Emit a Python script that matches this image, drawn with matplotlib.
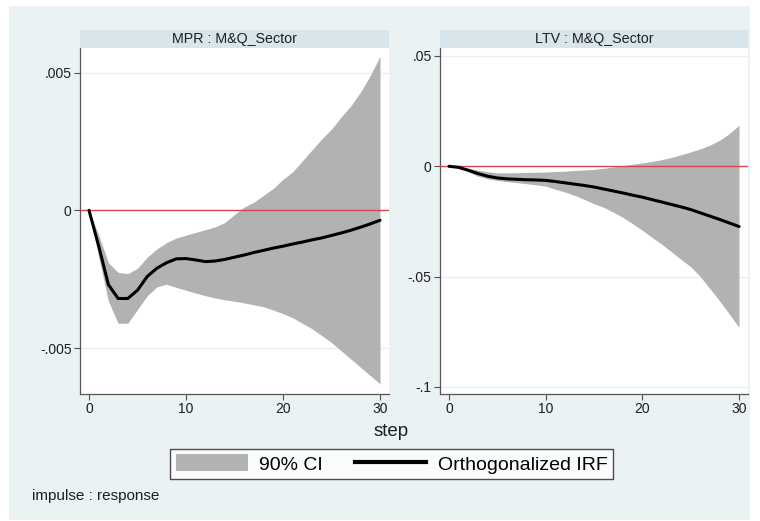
import matplotlib
matplotlib.use("Agg")
import matplotlib.pyplot as plt
from matplotlib.patches import Rectangle, Patch
from matplotlib.lines import Line2D

plt.rcParams['font.family'] = ['Liberation Sans', 'DejaVu Sans']

steps = list(range(31))

# Impulse MPR -> response M&Q_Sector
mpr_irf = [0, -0.0013, -0.0027, -0.0032, -0.0032, -0.0029, -0.0024, -0.0021, -0.0019,
           -0.00176, -0.00175, -0.0018, -0.00186, -0.00184, -0.00178, -0.0017, -0.00162,
           -0.00153, -0.00145, -0.00137, -0.0013, -0.00122, -0.00115, -0.00107, -0.001,
           -0.00091, -0.00082, -0.00072, -0.00061, -0.00049, -0.00036]
mpr_upper = [0, -0.0009, -0.0019, -0.00225, -0.0023, -0.0021, -0.0017, -0.0014, -0.00117,
             -0.001, -0.0009, -0.0008, -0.0007, -0.0006, -0.00044, -0.00015, 0.00012,
             0.0003, 0.00055, 0.0008, 0.00113, 0.0014, 0.0018, 0.0022, 0.0026, 0.00295,
             0.0034, 0.0038, 0.0043, 0.0049, 0.0056]
mpr_lower = [0, -0.0017, -0.0033, -0.0041, -0.0041, -0.0036, -0.0031, -0.00278, -0.00268,
             -0.0028, -0.0029, -0.003, -0.0031, -0.00318, -0.00325, -0.0033, -0.00336,
             -0.00343, -0.0035, -0.00362, -0.00375, -0.0039, -0.0041, -0.0043, -0.00455,
             -0.0048, -0.0051, -0.0054, -0.0057, -0.006, -0.0063]

# Impulse LTV -> response M&Q_Sector
ltv_irf = [0, -0.0005, -0.0018, -0.0033, -0.0045, -0.0053, -0.0057, -0.0059, -0.0061,
           -0.0062, -0.0064, -0.0069, -0.0075, -0.0081, -0.0087, -0.0094, -0.0103,
           -0.0112, -0.0121, -0.0131, -0.014, -0.0151, -0.0162, -0.0173, -0.0184,
           -0.0196, -0.0211, -0.0226, -0.0241, -0.0257, -0.0273]
ltv_upper = [0, -0.0003, -0.0009, -0.0018, -0.0025, -0.003, -0.003, -0.0029, -0.0028,
             -0.0027, -0.0026, -0.0024, -0.0022, -0.0019, -0.0017, -0.0014, -0.0009,
             -0.0003, 0.0003, 0.0009, 0.0015, 0.0022, 0.003, 0.004, 0.0052, 0.0065,
             0.0079, 0.0096, 0.0118, 0.0148, 0.0186]
ltv_lower = [0, -0.0008, -0.0026, -0.0045, -0.0057, -0.0064, -0.0069, -0.0074, -0.0079,
             -0.0084, -0.009, -0.0104, -0.0117, -0.0132, -0.015, -0.017, -0.0186,
             -0.0208, -0.0232, -0.026, -0.029, -0.0322, -0.0353, -0.0387, -0.0422,
             -0.0455, -0.05, -0.0555, -0.061, -0.067, -0.073]

panel_titles = ["MPR : M&Q_Sector", "LTV : M&Q_Sector"]
x_ticks = [0, 10, 20, 30]
mpr_yticks = [-0.005, 0, 0.005]
mpr_ylabels = ["-.005", "0", ".005"]
ltv_yticks = [-0.1, -0.05, 0, 0.05]
ltv_ylabels = ["-.1", "-.05", "0", ".05"]

W, H = 760, 521
BG = "#eaf2f3"
STRIP = "#d8e5eb"
CI_COLOR = "#b2b2b2"
ZERO_COLOR = "#d9434b"
AXIS_COLOR = "#555555"
TEXT_COLOR = "#1e1e1e"

fig = plt.figure(figsize=(W / 100, H / 100), dpi=100)
fig.patch.set_facecolor("white")


def fx(px):
    return px / W


def fy(py):
    return 1 - py / H


# graph region background
fig.add_artist(Rectangle((fx(9), fy(520)), fx(750) - fx(9), fy(6) - fy(520),
                         transform=fig.transFigure, facecolor=BG, edgecolor="none", zorder=0))

panels = [
    dict(x0=80, x1=389, irf=mpr_irf, lo=mpr_lower, hi=mpr_upper,
         ylim=(-0.00667, 0.0059), yt=mpr_yticks, yl=mpr_ylabels),
    dict(x0=440, x1=748, irf=ltv_irf, lo=ltv_lower, hi=ltv_upper,
         ylim=(-0.1032, 0.0536), yt=ltv_yticks, yl=ltv_ylabels),
]

top, bottom = 48, 394
for p, title in zip(panels, panel_titles):
    ax = fig.add_axes([fx(p["x0"]), fy(bottom), fx(p["x1"]) - fx(p["x0"]), fy(top) - fy(bottom)])
    ax.set_facecolor("white")
    ax.fill_between(steps, p["lo"], p["hi"], color=CI_COLOR, linewidth=0, zorder=2)
    ax.axhline(0, color=ZERO_COLOR, lw=1.0, zorder=3)
    ax.plot(steps, p["irf"], color="black", lw=2.2, zorder=4,
            solid_capstyle="round", solid_joinstyle="round")
    ax.set_xlim(-0.93, 30.93)
    ax.set_ylim(*p["ylim"])
    ax.set_xticks(x_ticks)
    ax.set_yticks(p["yt"])
    ax.set_yticklabels(p["yl"])
    for y in p["yt"]:
        if y != 0:
            ax.axhline(y, color="#e6eff2", lw=1.0, zorder=1)
    for s in ("top", "right"):
        ax.spines[s].set_visible(False)
    for s in ("left", "bottom"):
        ax.spines[s].set_color(AXIS_COLOR)
        ax.spines[s].set_linewidth(0.9)
    ax.tick_params(axis="both", direction="out", length=4, width=0.8, color=AXIS_COLOR,
                   labelsize=10, labelcolor=TEXT_COLOR, pad=2)
    # title strip
    sax = fig.add_axes([fx(p["x0"]), fy(48), fx(p["x1"]) - fx(p["x0"]), fy(30) - fy(48)])
    sax.set_facecolor(STRIP)
    sax.set_xticks([])
    sax.set_yticks([])
    for s in sax.spines.values():
        s.set_visible(False)
    sax.text(0.5, 0.5, title, ha="center", va="center", fontsize=10.3, color=TEXT_COLOR,
             transform=sax.transAxes)

fig.text(fx(391), fy(432), "step", ha="center", va="center", fontsize=13.5, color=TEXT_COLOR)
fig.text(fx(32), fy(496), "impulse : response", ha="left", va="center", fontsize=11,
         color=TEXT_COLOR)

handles = [Patch(facecolor=CI_COLOR, edgecolor="none"),
           Line2D([], [], color="black", lw=3.0)]
leg = fig.legend(handles, ["90% CI", "Orthogonalized IRF"], loc="center",
                 bbox_to_anchor=(fx(391.5), fy(464)), bbox_transform=fig.transFigure,
                 ncol=2, fontsize=14, frameon=True, fancybox=False,
                 handlelength=3.7, handleheight=0.95, handletextpad=0.57,
                 columnspacing=1.65, borderpad=0.3, borderaxespad=0)
leg.get_frame().set_edgecolor("#222222")
leg.get_frame().set_linewidth(1.0)
leg.get_frame().set_facecolor("white")

fig.savefig("out.png", dpi=100)
